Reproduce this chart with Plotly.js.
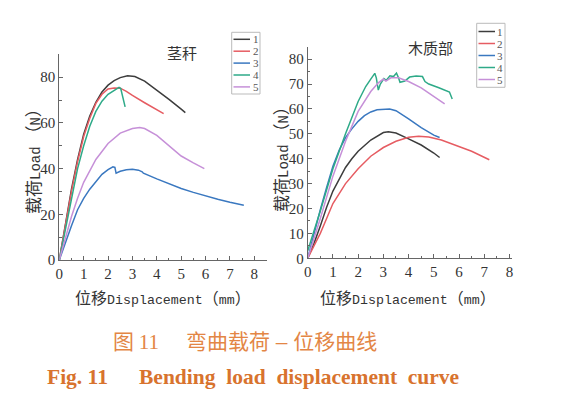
<!DOCTYPE html>
<html><head><meta charset="utf-8">
<script src="https://cdn.plot.ly/plotly-3.0.1.min.js"></script>
<style>html,body{margin:0;padding:0;background:#fff}</style>
</head><body><div id="chart" style="width:562px;height:399px"></div>
<script>
// ---------- data ----------
const seriesNames = ['1', '2', '3', '4', '5'];
const seriesColors = ['#3d3d3d', '#e65c62', '#3a78c0', '#2eaa88', '#c690d8'];

// Left panel: 茎秆 (stem)
const stemX1 = [0, 0.25, 0.5, 0.75, 1, 1.25, 1.5, 1.75, 2, 2.25, 2.5, 2.8, 3.1, 3.5, 4, 4.5, 5, 5.17];
const stemY1 = [0, 16, 31, 44, 55, 63, 69, 73.5, 76.5, 78.5, 79.8, 80.6, 80.3, 78.3, 74.5, 70.3, 66, 64.5];
const stemX2 = [0, 0.25, 0.5, 0.75, 1, 1.25, 1.5, 1.75, 2, 2.25, 2.5, 2.75, 3, 3.5, 4, 4.28];
const stemY2 = [0, 15, 30, 43, 54, 62, 68.5, 72.5, 74.8, 75.3, 75.2, 73.8, 72, 68.8, 65.7, 64];
const stemX3 = [0, 0.25, 0.5, 0.75, 1, 1.25, 1.5, 1.75, 2, 2.2, 2.28, 2.33, 2.5, 2.75, 3, 3.25, 3.4, 3.45, 4, 4.5, 5, 5.5, 6, 6.5, 7, 7.57];
const stemY3 = [0, 8, 15, 22, 27, 31, 34.5, 37.5, 39.5, 40.8, 40.5, 38, 38.8, 39.5, 39.7, 39.3, 38.6, 38, 35.5, 33.3, 31.3, 29.6, 28, 26.6, 25.3, 24];
const stemX4 = [0, 0.25, 0.5, 0.75, 1, 1.25, 1.5, 1.75, 2, 2.25, 2.45, 2.52, 2.56, 2.62, 2.7];
const stemY4 = [0, 13, 27, 40, 50, 58.5, 65, 69.5, 72.5, 74, 75.5, 75, 73, 70, 67];
const stemX5 = [0, 0.25, 0.5, 0.75, 1, 1.5, 2, 2.5, 3, 3.3, 3.5, 4, 4.5, 5, 5.5, 5.95];
const stemY5 = [0, 10, 19, 27, 34, 44, 51, 55.5, 57.5, 58, 57.5, 54.5, 50, 45.5, 42.5, 40];

// Right panel: 木质部 (xylem)
const xylX1 = [0, 0.25, 0.5, 0.75, 1, 1.25, 1.5, 1.75, 2, 2.5, 3, 3.2, 3.5, 4, 4.5, 5, 5.23];
const xylY1 = [0, 6, 13, 20.5, 27, 32, 36.5, 40, 43, 47.5, 50.5, 50.8, 50.3, 48, 45.5, 42.3, 40.5];
const xylX2 = [0, 0.25, 0.5, 0.75, 1, 1.5, 2, 2.5, 3, 3.5, 4, 4.4, 4.8, 5.3, 6, 6.5, 7.2];
const xylY2 = [0, 5, 10, 16, 22, 30, 36, 41, 44.5, 47, 48.6, 49, 48.7, 47.5, 45, 43, 39.6];
const xylX3 = [0, 0.25, 0.5, 0.75, 1, 1.25, 1.5, 1.75, 2, 2.25, 2.5, 2.75, 3, 3.25, 3.5, 3.75, 4, 4.5, 5, 5.23];
const xylY3 = [0, 10, 19.5, 28.5, 37, 43.5, 48.5, 52, 55, 57.3, 58.8, 59.7, 60, 60, 59.3, 57.8, 56, 52.5, 49.5, 48.5];
const xylX4 = [0, 0.5, 1, 1.5, 2, 2.3, 2.5, 2.66, 2.72, 2.8, 2.88, 3.02, 3.12, 3.26, 3.4, 3.52, 3.6, 3.66, 3.85, 4.04, 4.3, 4.55, 4.65, 4.8, 5.2, 5.5, 5.62, 5.73];
const xylY4 = [3, 19, 36, 50, 63, 69, 72, 74.3, 72.5, 67.6, 70, 72.2, 71.5, 73.3, 73, 74.4, 72.5, 70.7, 71.2, 72.8, 73.2, 73, 71, 70, 68.5, 67.3, 66.8, 64];
const xylX5 = [0, 0.5, 1, 1.5, 2, 2.5, 2.8, 3, 3.1, 3.3, 3.6, 4, 4.5, 5, 5.43];
const xylY5 = [0, 16, 33, 47, 59, 67, 70.5, 72, 71.2, 72.5, 72.5, 71, 68.5, 65, 62];

const stemXs = [stemX1, stemX2, stemX3, stemX4, stemX5];
const stemYs = [stemY1, stemY2, stemY3, stemY4, stemY5];
const xylXs = [xylX1, xylX2, xylX3, xylX4, xylX5];
const xylYs = [xylY1, xylY2, xylY3, xylY4, xylY5];

const panelTitles = ['茎秆', '木质部'];
const xTickVals = [0, 1, 2, 3, 4, 5, 6, 7, 8];
const stemYTicks = [0, 20, 40, 60, 80];
const xylYTicks = [0, 10, 20, 30, 40, 50, 60, 70, 80];

// ---------- build ----------
const W = 562, H = 399;
const px = v => v / W;
const py = v => 1 - v / H;

const traces = [];
for (let i = 0; i < 5; i++) {
  traces.push({x: stemXs[i], y: stemYs[i], xaxis: 'x', yaxis: 'y', mode: 'lines',
    name: seriesNames[i], line: {color: seriesColors[i], width: 1.5}, hoverinfo: 'skip'});
}
for (let i = 0; i < 5; i++) {
  traces.push({x: xylXs[i], y: xylYs[i], xaxis: 'x2', yaxis: 'y2', mode: 'lines',
    name: seriesNames[i], line: {color: seriesColors[i], width: 1.5}, hoverinfo: 'skip'});
}

const axisCommon = {
  showline: true, linecolor: '#666', linewidth: 1, showgrid: false, zeroline: false,
  ticks: 'inside', ticklen: 4, tickcolor: '#666', tickwidth: 1,
  tickfont: {family: 'Liberation Serif', size: 15, color: '#333'},
  fixedrange: true
};

const monoX = 'font-family:Liberation Mono;font-size:13.3px';
const monoY = 'font-family:Liberation Mono;font-size:14px';
const xTitle = '位移<span style="' + monoX + '">Displacement</span>（<span style="' + monoX + '">mm</span>）';
const yTitle = '载荷<span style="' + monoY + '">Load</span> （<span style="' + monoY + '">N</span>）';

function ann(text, x, y, font, extra) {
  return Object.assign({text: text, x: px(x), y: py(y), xref: 'paper', yref: 'paper', showarrow: false,
    xanchor: 'center', yanchor: 'middle', font: font}, extra || {});
}

const xTitleFont = {family: 'Noto Sans CJK SC', size: 16, color: '#333'};
const yTitleFont = {family: 'Noto Sans CJK SC', size: 17, color: '#333'};
const panelFont = {family: 'Noto Sans CJK SC', size: 15, color: '#333'};
const capCnFont = {family: 'Noto Sans CJK SC', size: 21, color: '#e38645'};
const capEnFont = {family: 'Liberation Serif', size: 21.5, color: '#d8732e'};
const annotations = [
  ann(panelTitles[0], 182, 53, panelFont),
  ann(panelTitles[1], 430, 47.5, panelFont),
  ann(xTitle, 163, 297, xTitleFont),
  ann(xTitle, 408, 297, xTitleFont),
  ann(yTitle, 33, 157, yTitleFont, {textangle: -90}),
  ann(yTitle, 280, 155, yTitleFont, {textangle: -90}),
  ann('图 <span style="font-family:Liberation Serif">11</span>', 111, 340, capCnFont, {xanchor: 'left'}),
  ann('弯曲载荷<span style="font-family:Liberation Sans">\u00a0–\u00a0</span>位移曲线', 184, 340, capCnFont, {xanchor: 'left'}),
  ann('<b>Fig. 11</b>', 45, 377, capEnFont, {xanchor: 'left'}),
  ann('<b>Bending\u00a0\u00a0load\u00a0\u00a0displacement\u00a0\u00a0curve</b>', 136.7, 377, capEnFont, {xanchor: 'left'})
];

// manual legends (box + sample lines + labels)
const shapes = [];
function addLegend(box, lineX0, lineX1, labelX, ys) {
  shapes.push({type: 'rect', xref: 'paper', yref: 'paper', x0: px(box[0]), x1: px(box[1]), y0: py(box[2]), y1: py(box[3]),
    line: {color: '#bbb', width: 1}, fillcolor: 'rgba(0,0,0,0)'});
  for (let i = 0; i < seriesNames.length; i++) {
    shapes.push({type: 'line', xref: 'paper', yref: 'paper', x0: px(lineX0), x1: px(lineX1), y0: py(ys[i]), y1: py(ys[i]),
      line: {color: seriesColors[i], width: 1.5}});
    annotations.push(ann(seriesNames[i], labelX, ys[i], {family: 'Liberation Serif', size: 11, color: '#555'}));
  }
}
addLegend([231.7, 260, 32.3, 94], 233.5, 250, 255.5, [39.3, 51.2, 63.1, 75, 86.9]);
addLegend([476.7, 505, 23.3, 87.3], 478.5, 495, 500.3, [31.5, 43.5, 55.5, 67.5, 79.5]);

const layout = {
  width: W, height: H, margin: {l: 0, r: 0, t: 0, b: 0},
  paper_bgcolor: '#fff', plot_bgcolor: '#fff', showlegend: false,
  xaxis: Object.assign({}, axisCommon, {domain: [px(59.3), px(266.5)], range: [0, 8.5], anchor: 'y',
    tickvals: xTickVals, minor: {ticks: 'inside', ticklen: 2.5, dtick: 0.5, tickcolor: '#666'}}),
  yaxis: Object.assign({}, axisCommon, {domain: [py(260), py(54.3)], range: [0, 90], anchor: 'x',
    tickvals: stemYTicks, minor: {ticks: 'inside', ticklen: 2.5, dtick: 10, tickcolor: '#666'}}),
  xaxis2: Object.assign({}, axisCommon, {domain: [px(307.7), px(512)], range: [0, 8.1], anchor: 'y2',
    tickvals: xTickVals, minor: {ticks: 'inside', ticklen: 2.5, dtick: 0.5, tickcolor: '#666'}}),
  yaxis2: Object.assign({}, axisCommon, {domain: [py(258.3), py(46.7)], range: [0, 85], anchor: 'x2',
    tickvals: xylYTicks, minor: {ticks: 'inside', ticklen: 2.5, dtick: 5, tickcolor: '#666'}}),
  annotations: annotations,
  shapes: shapes
};

Plotly.newPlot('chart', traces, layout, {displayModeBar: false, staticPlot: true});
</script></body></html>
